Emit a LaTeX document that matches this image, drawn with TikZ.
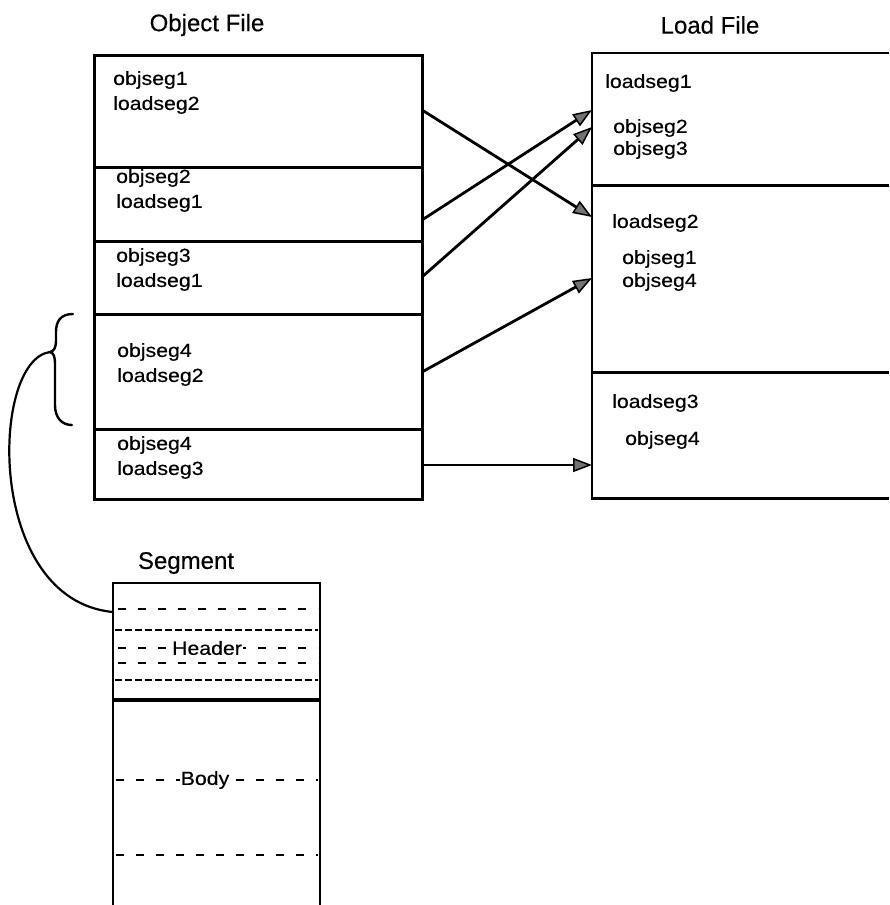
\documentclass[tikz,border=0pt]{standalone}
\usepackage{fontspec}
\setmainfont{Liberation Sans}[FakeStretch=1.12,FakeBold=0.4]
\newfontfamily\titlefont{Liberation Sans}[FakeBold=0.3]
\usetikzlibrary{arrows.meta}
\begin{document}
\begin{tikzpicture}[x=1pt,y=-1pt,
  rowbox/.style={draw, line width=2.5pt, inner sep=0pt, anchor=north west},
  openrow/.style={inner sep=0pt, anchor=north west},
  lbl/.style={anchor=west, inner sep=0pt, font=\fontsize{19}{23}\selectfont},
  ttl/.style={inner sep=0pt, font=\titlefont\fontsize{24}{28}\selectfont},
  link/.style={line width=2.8pt, -{Triangle[length=19pt,width=14pt,fill=black!55,line width=1.5pt]}},
  segdash/.style={line width=2.2pt, dash pattern=on 8pt off 12pt},
  segfine/.style={line width=2.2pt, dash pattern=on 7pt off 3pt},
  cut/.style={fill=white, inner sep=1pt, font=\fontsize{19}{23}\selectfont}]
\useasboundingbox (0,0) rectangle (889,905);

% titles
\node[ttl] (tobj) at (207,25) {Object File};
\node[ttl] (tload) at (710,25) {Load File};
\node[ttl] (tseg) at (186,563) {Segment};

% object file rows
\node[rowbox, minimum width=328pt, minimum height=112pt] (o1) at (93,54) {};
\node[rowbox, minimum width=328pt, minimum height=74pt]  (o2) at (93,166) {};
\node[rowbox, minimum width=328pt, minimum height=73pt]  (o3) at (93,240) {};
\node[rowbox, minimum width=328pt, minimum height=115pt] (o4) at (93,313) {};
\node[rowbox, minimum width=328pt, minimum height=70pt]  (o5) at (93,428) {};

\node[lbl] (o1a) at (113,80)  {objseg1};
\node[lbl] (o1b) at (113,105) {loadseg2};
\node[lbl] (o2a) at (116,178) {objseg2};
\node[lbl] (o2b) at (116,203) {loadseg1};
\node[lbl] (o3a) at (116,257) {objseg3};
\node[lbl] (o3b) at (116,282) {loadseg1};
\node[lbl] (o4a) at (117,352) {objseg4};
\node[lbl] (o4b) at (117,377) {loadseg2};
\node[lbl] (o5a) at (117,445) {objseg4};
\node[lbl] (o5b) at (117,470) {loadseg3};

% load file rows (open to the right)
\node[openrow, minimum width=297pt, minimum height=132pt] (l1) at (592,53) {};
\node[openrow, minimum width=297pt, minimum height=187pt] (l2) at (592,185) {};
\node[openrow, minimum width=297pt, minimum height=126pt] (l3) at (592,372) {};
\draw[line width=2.5pt] (l1.north east) -- (l1.north west) -- (l3.south west) -- (l3.south east);
\draw[line width=2.5pt] (l1.south west) -- (l1.south east);
\draw[line width=2.5pt] (l2.south west) -- (l2.south east);

\node[lbl] (l1a) at (605,83)  {loadseg1};
\node[lbl] (l1b) at (613,128) {objseg2};
\node[lbl] (l1c) at (613,150) {objseg3};
\node[lbl] (l2a) at (612,223) {loadseg2};
\node[lbl] (l2b) at (622,259) {objseg1};
\node[lbl] (l2c) at (622,282) {objseg4};
\node[lbl] (l3a) at (612,403) {loadseg3};
\node[lbl] (l3b) at (625,440) {objseg4};

% arrow end points on the box edges
\coordinate (s1) at (422,110);
\coordinate (s2) at (422,220);
\coordinate (s3) at (422,277);
\coordinate (s4) at (422,372);
\coordinate (s5) at (422,465);
\coordinate (e1) at (592,110);
\coordinate (e2) at (592,127);
\coordinate (e3) at (592,217);
\coordinate (e4) at (592,278);
\coordinate (e5) at (592,465);

\draw[link] (s1) -- (e3);
\draw[link] (s2) -- (e1);
\draw[link] (s3) -- (e2);
\draw[link] (s4) -- (e4);
\draw[link] (s5) -- (e5);

% segment layout
\coordinate (sgtl) at (113,583);
\coordinate (sgtr) at (320,583);
\draw[line width=2.5pt] (113,905) -- (sgtl) -- (sgtr) -- (320,905);
\draw[segdash] (118,609) -- (318,609);
\draw[segfine] (115,630) -- (318,630);
\draw[segdash] (118,648) -- (318,648);
\node[cut] (hdr) at (207,648) {Header};
\draw[segdash] (118,663) -- (318,663);
\draw[segfine] (115,680) -- (318,680);
\draw[line width=1.4pt, dash pattern=on 6pt off 3pt] (320,630) -- (320,680);
\draw[line width=3.5pt] (113,700) -- (320,700);
\draw[segdash] (116,780) -- (318,780);
\node[cut] (bdy) at (205,780) {Body};
\draw[segdash] (116,855) -- (318,855);

% brace marking one object segment, tied to the segment layout
\coordinate (btop) at (73,314);
\coordinate (btip) at (50,352);
\coordinate (bbot) at (72,425);
\draw[line width=2.4pt, line cap=round]
  (btop) .. controls (60,314) and (56,322) .. (56,332)
  -- (56,340) .. controls (56,348) and (54,351) .. (btip)
  .. controls (54,353) and (55,357) .. (55,365)
  -- (55,405) .. controls (55,418) and (62,425) .. (bbot);
\draw[line width=2.2pt] (btip) .. controls (-10,360) and (-15,600) .. (sgtl |- 0,612) -- (113,612);
\end{tikzpicture}
\end{document}
